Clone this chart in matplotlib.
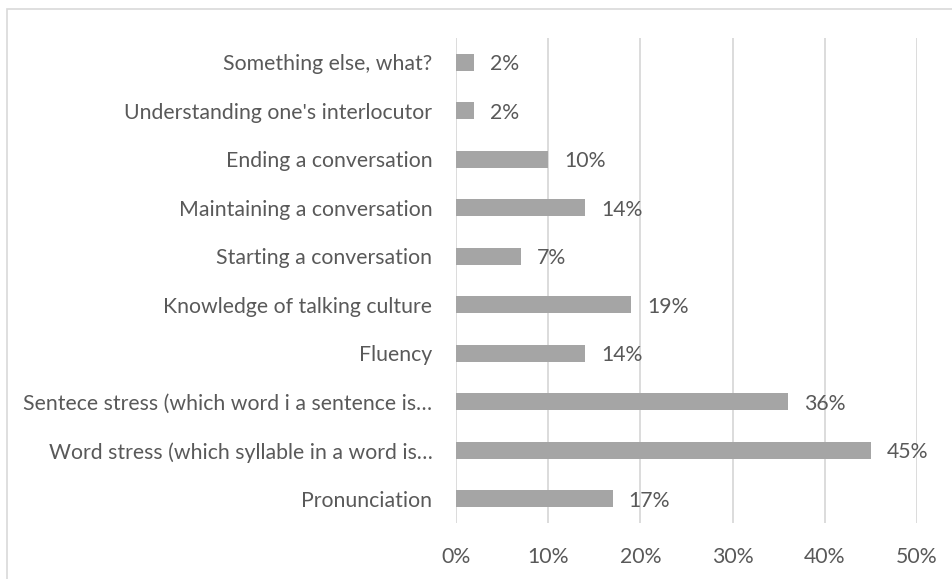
import matplotlib.pyplot as plt
from matplotlib.patches import Rectangle
from matplotlib.ticker import FuncFormatter

# Categories listed bottom to top, shares in percent
categories = [
    'Pronunciation',
    'Word stress (which syllable in a word is\u2026',
    'Sentece stress (which word i a sentence is\u2026',
    'Fluency',
    'Knowledge of talking culture',
    'Starting a conversation',
    'Maintaining a conversation',
    'Ending a conversation',
    "Understanding one's interlocutor",
    'Something else, what?',
]
shares = [17, 45, 36, 14, 19, 7, 14, 10, 2, 2]
x_ticks = [0, 10, 20, 30, 40, 50]

plt.rcParams['font.family'] = ['Lato', 'DejaVu Sans']
text_color = '#595959'
fs = 15.3

fig = plt.figure(figsize=(9.53, 5.79), dpi=100)
ax = fig.add_axes([456 / 953, 1 - 523 / 579, (917 - 456) / 953, (523 - 38) / 579])

pos = list(range(len(categories)))
bars = ax.barh(pos, shares, height=0.35, color='#A5A5A5', zorder=3)

# value labels to the right of each bar
for b, v in zip(bars, shares):
    ax.annotate(f'{v}%', (b.get_width(), b.get_y() + b.get_height() / 2),
                xytext=(11.5, -1.5), textcoords='offset points', va='center',
                ha='left', fontsize=fs, color=text_color)

ax.set_xlim(0, 50)
ax.set_ylim(-0.5, len(categories) - 0.5)
ax.set_xticks(x_ticks)
ax.xaxis.set_major_formatter(FuncFormatter(lambda v, p: f'{v:.0f}%'))
ax.set_yticks(pos)
ax.set_yticklabels(categories)
ax.grid(axis='x', color='#D9D9D9', linewidth=1.3, zorder=0)
ax.tick_params(axis='both', length=0, labelsize=fs, colors=text_color)
ax.tick_params(axis='y', pad=17)
ax.tick_params(axis='x', pad=17)
for s in ax.spines.values():
    s.set_visible(False)

# chart area outline (runs off the right and bottom edges)
fig.patches.append(Rectangle((7.5 / 953, -0.1), 1.2, 1 - 9 / 579 + 0.1,
                             transform=fig.transFigure, fill=False,
                             edgecolor='#D9D9D9', linewidth=1.2))

fig.savefig('out.png', dpi=100, facecolor='white')
